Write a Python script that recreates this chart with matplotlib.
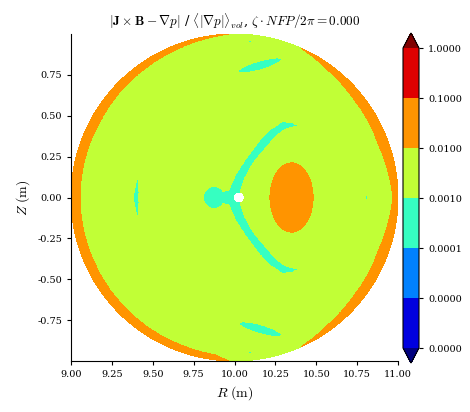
import numpy as np
import matplotlib
matplotlib.use("Agg")
import matplotlib.pyplot as plt
from matplotlib.colors import LogNorm
from matplotlib.ticker import FormatStrFormatter

# contour levels of the normalized force error
levels = 10.0 ** np.arange(-6, 1)

# log10 error levels
bg_level = -2.5      # yellow-green bulk
hot_level = -1.5     # orange edge band and blob
cold_level = -3.5    # cyan patches

# orange edge band thickness (m) vs poloidal angle (deg)
edge_theta = [0, 20, 40, 55, 66, 90, 92, 110, 125, 150, 180, 210, 235, 250, 263, 268, 294, 305, 320, 340, 360]
edge_thick = [0.032, 0.062, 0.054, 0.032, 0.0, 0.0, 0.0, 0.026, 0.04, 0.055, 0.055, 0.054, 0.046, 0.04, 0.03, 0.0, 0.0, 0.032, 0.054, 0.062, 0.032]

# orange blob (center R, Z, semi-axes)
blob_center = (10.349, 0.0)
blob_axes = (0.131, 0.211)

# cyan ellipses: R, Z, semi-major, semi-minor, angle (deg)
cold_ellipses = [
    (9.875, 0.0, 0.068, 0.066, 90),
    (9.96, 0.0, 0.08, 0.042, 0),
    (10.0, 0.0, 0.045, 0.045, 0),
    (10.156, 0.808, 0.138, 0.027, 16),
    (10.156, -0.805, 0.135, 0.027, -16),
    (10.10, 0.952, 0.025, 0.006, -4),
    (10.10, -0.946, 0.03, 0.006, 4),
    (10.808, 0.0, 0.016, 0.006, 90),
]

# cyan crescent arm (upper; lower is mirrored): centerline and half-width
arm_R = [10.00, 10.035, 10.095, 10.176, 10.235, 10.30, 10.35, 10.395]
arm_Z = [0.04, 0.13, 0.229, 0.331, 0.395, 0.44, 0.443, 0.438]
arm_hw = [0.035, 0.03, 0.026, 0.029, 0.027, 0.025, 0.015, 0.0]

# thin cyan lens on the inboard side
lens_R, lens_bulge, lens_h = 9.416, 0.032, 0.14

# magnetic axis (not evaluated -> blank)
axis_R, axis_r = 10.026, 0.033

plt.rcParams["font.family"] = "DejaVu Serif"
plt.rcParams["mathtext.fontset"] = "cm"


def band(R, Z, rr, zz, hw):
    inside = np.zeros(R.shape, bool)
    for i in range(len(rr) - 1):
        dR, dZ = rr[i + 1] - rr[i], zz[i + 1] - zz[i]
        t = np.clip(((R - rr[i]) * dR + (Z - zz[i]) * dZ) / (dR**2 + dZ**2), 0, 1)
        dist = np.hypot(R - rr[i] - t * dR, Z - zz[i] - t * dZ)
        inside |= dist < hw[i] + t * (hw[i + 1] - hw[i])
    return inside


def ellipse(R, Z, r0, z0, a, b, ang):
    c, s = np.cos(np.radians(ang)), np.sin(np.radians(ang))
    u = (R - r0) * c + (Z - z0) * s
    v = -(R - r0) * s + (Z - z0) * c
    return (u / a) ** 2 + (v / b) ** 2 < 1


rho = np.linspace(0, 1, 500)
theta = np.linspace(0, 2 * np.pi, 1441)
RHO, TH = np.meshgrid(rho, theta)
R = 10 + RHO * np.cos(TH)
Z = RHO * np.sin(TH)

f = np.full(R.shape, bg_level)
thick = np.interp(np.degrees(TH), edge_theta, edge_thick)
f[(1 - RHO) < thick] = hot_level
f[ellipse(R, Z, blob_center[0], blob_center[1], blob_axes[0], blob_axes[1], 0)] = hot_level
for e in cold_ellipses:
    f[ellipse(R, Z, *e)] = cold_level
f[band(R, Z, arm_R, arm_Z, arm_hw)] = cold_level
f[band(R, Z, arm_R, [-z for z in arm_Z], arm_hw)] = cold_level
lens = (np.abs(Z) < lens_h) & (R < lens_R) & (R > lens_R - lens_bulge * (1 - (Z / lens_h) ** 2))
f[lens] = cold_level
f[np.hypot(R - axis_R, Z) < axis_r] = np.nan

err = 10.0 ** f

fig = plt.figure(figsize=(4.7, 4.12), dpi=100)
ax = fig.add_axes([71 / 470, 51 / 412, 327 / 470, 327 / 412])
cs = ax.contourf(R, Z, err, levels=levels, cmap="jet", norm=LogNorm(), extend="both")
ax.set_xlim(9, 11)
ax.set_ylim(-1, 1)
ax.set_aspect("equal")
ax.set_xticks(np.arange(9, 11.01, 0.25))
ax.set_yticks([-0.75, -0.5, -0.25, 0, 0.25, 0.5, 0.75])
ax.xaxis.set_major_formatter(FormatStrFormatter("%.2f"))
ax.yaxis.set_major_formatter(FormatStrFormatter("%.2f"))
ax.tick_params(labelsize=7, length=3, width=0.8)
for side in ["top", "right"]:
    ax.spines[side].set_visible(False)
ax.set_xlabel(r"$R ~(\mathrm{m})$", fontsize=10)
ax.set_ylabel(r"$Z ~(\mathrm{m})$", fontsize=10)
ax.set_title(r"$|\mathbf{J} \times \mathbf{B} - \nabla p|$ / $\langle|\nabla p|\rangle_{vol}$, "
             r"$\zeta \cdot NFP/2\pi = 0.000$", fontsize=9.5)

cax = fig.add_axes([403 / 470, 49 / 412, 16 / 470, 330 / 412])
cb = fig.colorbar(cs, cax=cax)
cb.set_ticks(levels)
cb.minorticks_off()
cb.ax.yaxis.set_major_formatter(FormatStrFormatter("%.4f"))
cb.ax.tick_params(labelsize=7, length=3, width=0.8)

fig.savefig("out.png", dpi=100)
